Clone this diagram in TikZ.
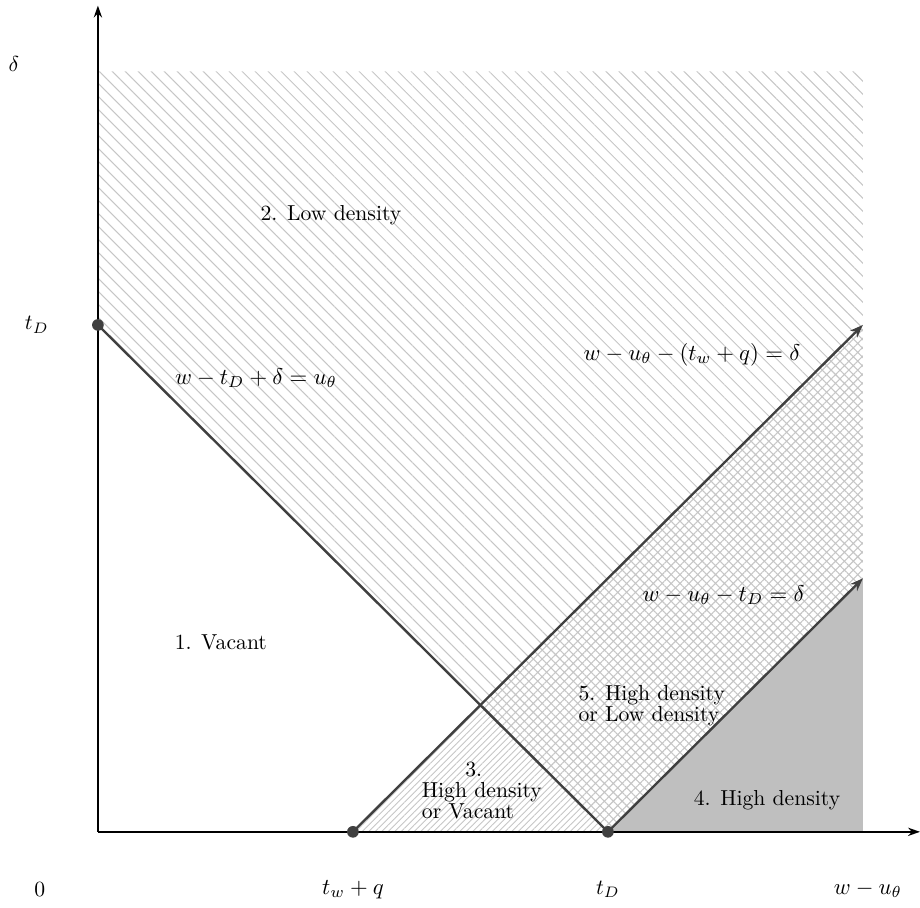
\documentclass[tikz,border=0pt]{standalone}
\usetikzlibrary{patterns.meta,arrows.meta}
\begin{document}
\begin{tikzpicture}[x=0.827cm,y=0.822cm,
    eje/.style={line width=1pt,-{Stealth[length=5.5pt,width=3.8pt]}},
    recta/.style={line width=1.1pt,black!75},
    punto/.style={circle,fill=black!75,inner sep=0pt,minimum size=5.4pt},
    zona/.style={pattern color=gray!45},
    ecuac/.style={scale=1.05},
    etiq/.style={align=left}]
    \useasboundingbox (-1.92,-1.5) rectangle (16.12,16.41);

    % Puntos de referencia
    \coordinate (O) at (0,0);
    \coordinate (tD) at (0,10);
    \coordinate (twq) at (5,0);
    \coordinate (tDx) at (10,0);
    \coordinate (M) at (7.5,2.5);
    \coordinate (P) at (15,10);
    \coordinate (Q) at (15,5);
    \coordinate (R) at (15,0);
    \coordinate (X) at (16.12,0);
    \coordinate (Y) at (0,16.3);

    % Zonas
    \fill[zona,pattern={Lines[angle=-45,distance=4.24pt,line width=0.45pt]}]
        (tD) -- (0,15) -- (15,15) -- (P) -- (M) -- cycle;
    \fill[zona,pattern={Hatch[angle=45,distance=2.9pt,line width=0.5pt]}]
        (M) -- (P) -- (Q) -- (tDx) -- cycle;
    \fill[zona,pattern={Lines[angle=45,distance=2.12pt,line width=0.45pt]}]
        (twq) -- (M) -- (tDx) -- cycle;
    \fill[gray!50] (tDx) -- (Q) -- (R) -- cycle;

    % Ejes
    \draw[eje] (O) -- (X);
    \draw[eje] (O) -- (Y);

    % Rectas
    \draw[recta] (tD) -- (tDx);
    \draw[recta,-{Stealth[length=6pt,width=4.5pt]}] (twq) -- (P);
    \draw[recta,-{Stealth[length=6pt,width=4.5pt]}] (tDx) -- (Q);
    \foreach \p in {tD,twq,tDx}
        \node[punto] (d\p) at (\p) {};

    % Etiquetas de los ejes
    \node (delta) at (-1.65,15.15) {$\delta$};
    \node (ltD) at (-1.2,10) {$t_D$};
    \node (cero) at (-1.14,-1.14) {$0$};
    \node[ecuac] (ltwq) at (5,-1.14) {$t_w+q$};
    \node (ltDx) at (10,-1.14) {$t_D$};
    \node[ecuac] (lwu) at (15.1,-1.14) {$w-u_\theta$};

    % Etiquetas de las rectas
    \node[ecuac] (ec1) at (3.1,8.95) {$w-t_D+\delta=u_\theta$};
    \node[ecuac] (ec2) at (11.65,9.41) {$w-u_\theta-(t_w+q)=\delta$};
    \node[ecuac] (ec3) at (12.27,4.67) {$w-u_\theta-t_D=\delta$};

    % Etiquetas de las zonas
    \node (z1) at (2.41,3.73) {1. Vacant};
    \node (z2) at (4.57,12.17) {2. Low density};
    \node[etiq] (z3) at (7.53,0.81) {\qquad 3.\\[-2.3pt]High density\\[-2.3pt]or Vacant};
    \node (z4) at (13.12,0.63) {4. High density};
    \node[etiq] (z5) at (10.86,2.49) {5. High density\\[-2.3pt]or Low density};
\end{tikzpicture}
\end{document}
